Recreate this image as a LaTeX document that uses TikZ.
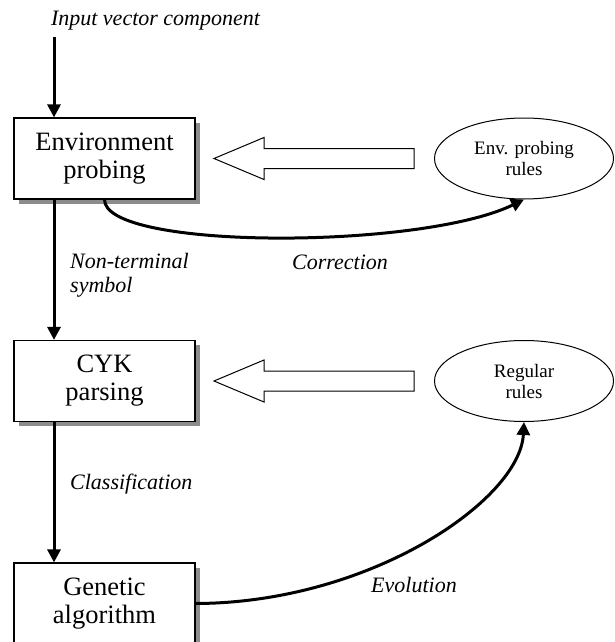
\documentclass[tikz,border=0pt]{standalone}
\usepackage{fontspec}
\setmainfont{Liberation Serif}
\usetikzlibrary{arrows.meta,shapes.geometric,shadows}
\begin{document}
\begin{tikzpicture}[x=1pt,y=-1pt,
        stage/.style={draw, line width=1.2pt, fill=white, minimum width=181pt, minimum height=81pt, inner sep=0pt, align=center, font=\fontsize{26.5}{28}\selectfont, drop shadow={shadow xshift=4.5pt, shadow yshift=-4.5pt, fill=black!45, opacity=1}},
        rulebase/.style={draw, ellipse, line width=1pt, minimum width=179pt, minimum height=81pt, inner sep=0pt, align=center, font=\fontsize{19}{21}\selectfont},
        flowtext/.style={inner sep=0pt, font=\fontsize{22}{24}\selectfont\itshape},
        flow/.style={line width=3pt, -{Triangle[length=13pt,width=13pt]}},
        fatarrow/.style={draw, line width=1pt, fill=white}]
            \useasboundingbox (0,0) rectangle (614,642);
            \clip (0,0) rectangle (614,642);

            \node[stage] (env) at (104.5,158.5) {Environment\\probing};
            \node[stage] (cyk) at (104.5,381) {CYK\\parsing};
            \node[stage] (ga) at (104.5,603.5) {Genetic\\algorithm};
            \node[rulebase] (envrules) at (524,158.5) {Env. probing\\rules};
            \node[rulebase] (regrules) at (524,381) {Regular\\rules};

            \node[flowtext] (input) at (155.5,21) {Input vector component};
            \node[flowtext, anchor=west, align=left] (nonterm) at (70,275) {Non-terminal\\symbol};
            \node[flowtext, anchor=west] (classif) at (70,484) {Classification};
            \node[flowtext] (corr) at (340,262) {Correction};
            \node[flowtext] (evol) at (414,585) {Evolution};

            \coordinate (in) at (54,37);
            \draw[flow] (in) -- (in |- env.north);
            \draw[flow] (in |- env.south) -- (in |- cyk.north);
            \draw[flow] (in |- cyk.south) -- (in |- ga.north);

            \foreach \r in {158.5,381}
                \draw[fatarrow] (214,\r) -- (264,\r-21) -- (264,\r-10) -- (414,\r-10) -- (414,\r+10) -- (264,\r+10) -- (264,\r+21) -- cycle;

            \draw[flow] (env.south) .. controls (104,250) and (420,250) .. (envrules.south);
            \draw[flow] (ga.east) .. controls (370,603) and (520,500) .. (regrules.south);
        \end{tikzpicture}
\end{document}
